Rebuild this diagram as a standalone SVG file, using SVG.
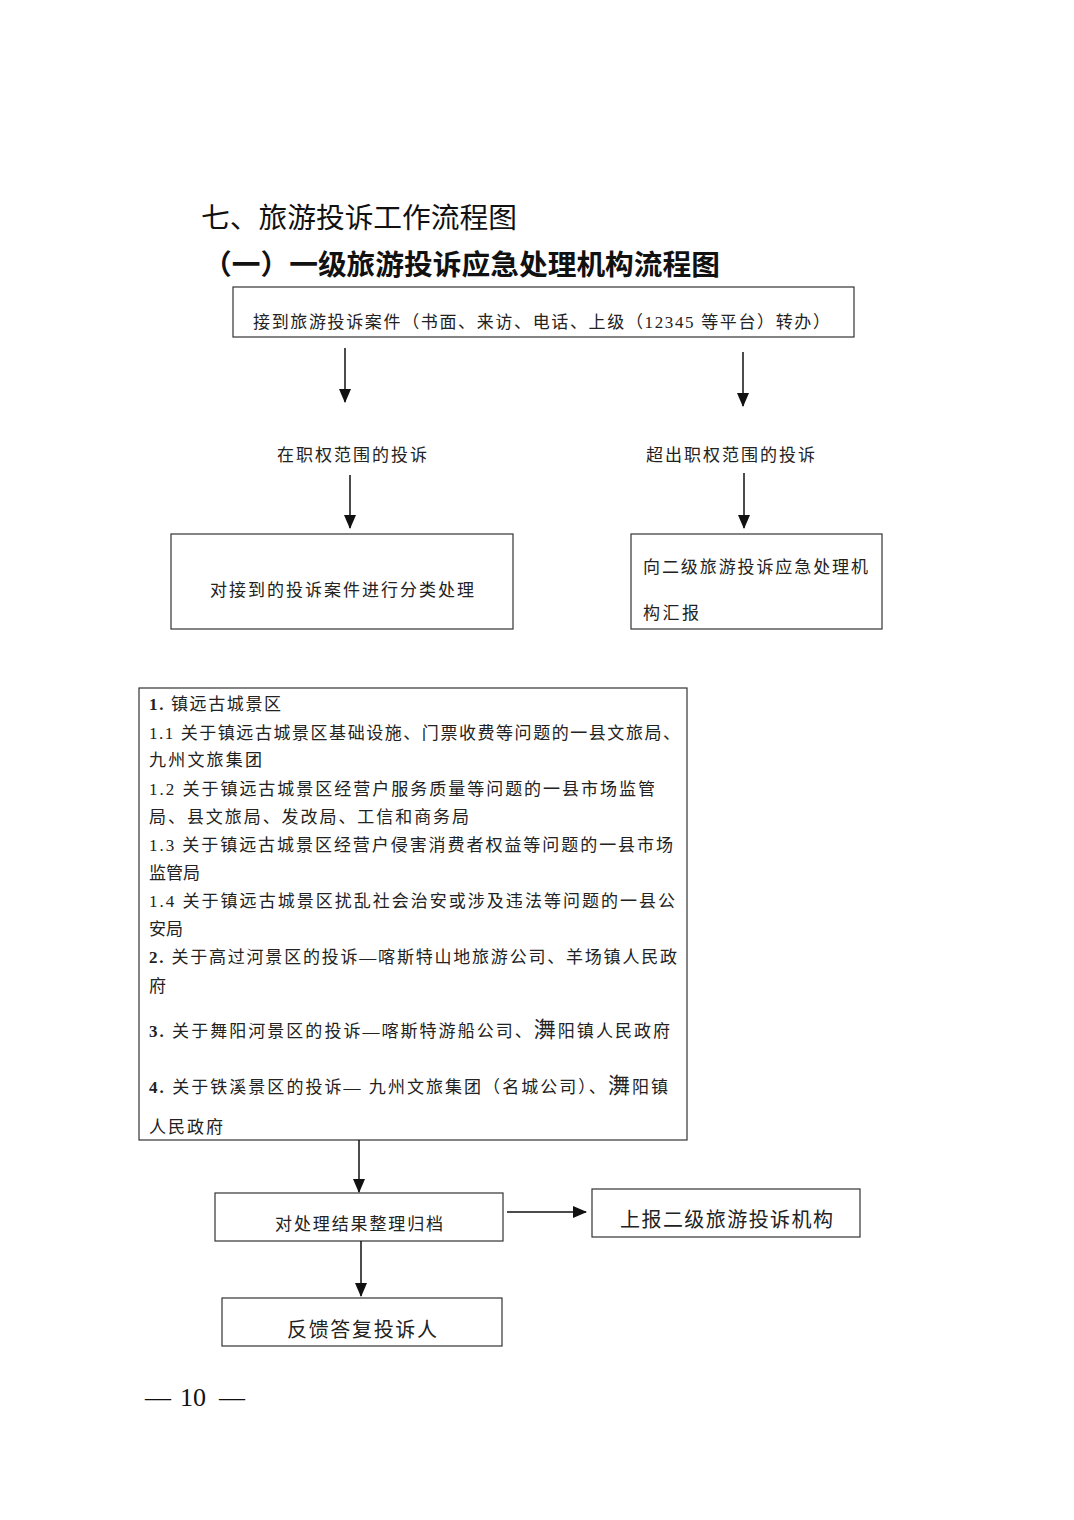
<svg xmlns="http://www.w3.org/2000/svg" width="1074" height="1520" viewBox="0 0 1074 1520">
<style>
.bx{fill:#fff;stroke:#333;stroke-width:1.2}
.t{font-family:"Liberation Serif","Noto Sans CJK SC",serif;font-size:17px;fill:#222}
.t20{font-family:"Liberation Serif","Noto Sans CJK SC",serif;font-size:20px;fill:#222}
.h1{font-family:"Liberation Sans","Noto Sans CJK SC",sans-serif;font-size:28px;fill:#111}
.h2{font-family:"Liberation Sans","Noto Sans CJK SC",sans-serif;font-size:28px;font-weight:bold;fill:#111}
.pg{font-family:"Liberation Serif",serif;font-size:26px;fill:#111}
.b{font-weight:bold}
.big{font-size:22px}
.ln{stroke:#111;stroke-width:1.5;fill:none}
</style>
<defs>
<marker id="ah" viewBox="0 0 14 12" refX="13" refY="6" markerWidth="14" markerHeight="12" markerUnits="userSpaceOnUse" orient="auto"><path d="M0,0L14,6L0,12Z" fill="#111"/></marker>
</defs>
<rect width="1074" height="1520" fill="#fff"/>
<text class="h1" x="201" y="228" textLength="316" lengthAdjust="spacingAndGlyphs">七、旅游投诉工作流程图</text>
<text class="h2" x="203" y="275" textLength="517" lengthAdjust="spacingAndGlyphs">（一）一级旅游投诉应急处理机构流程图</text>

<g id="n-receive">
<rect class="bx" x="233" y="287" width="621" height="50"/>
<text class="t" x="253" y="328" textLength="577" lengthAdjust="spacing">接到旅游投诉案件（书面、来访、电话、上级（12345 等平台）转办）</text>
</g>
<g id="n-inscope"><text class="t" x="277" y="461" textLength="150" lengthAdjust="spacing">在职权范围的投诉</text></g>
<g id="n-outscope"><text class="t" x="646" y="461" textLength="169" lengthAdjust="spacing">超出职权范围的投诉</text></g>
<g id="n-classify">
<rect class="bx" x="171" y="534" width="342" height="95"/>
<text class="t" x="210" y="596" textLength="264" lengthAdjust="spacing">对接到的投诉案件进行分类处理</text>
</g>
<g id="n-report2">
<rect class="bx" x="631" y="534" width="251" height="95"/>
<text class="t" x="643" y="573" textLength="225" lengthAdjust="spacing">向二级旅游投诉应急处理机</text>
<text class="t" x="643" y="619" textLength="56" lengthAdjust="spacing">构汇报</text>
</g>
<g id="n-list">
<rect class="bx" x="139" y="688" width="548" height="452"/>
<text class="t" x="149" y="710" textLength="132" lengthAdjust="spacing"><tspan class="b">1.</tspan> 镇远古城景区</text>
<text class="t" x="149" y="739" textLength="531" lengthAdjust="spacing">1.1 关于镇远古城景区基础设施、门票收费等问题的一县文旅局、</text>
<text class="t" x="149" y="766" textLength="113" lengthAdjust="spacing">九州文旅集团</text>
<text class="t" x="149" y="795" textLength="506" lengthAdjust="spacing">1.2 关于镇远古城景区经营户服务质量等问题的一县市场监管</text>
<text class="t" x="149" y="823" textLength="320" lengthAdjust="spacing">局、县文旅局、发改局、工信和商务局</text>
<text class="t" x="149" y="851" textLength="524" lengthAdjust="spacing">1.3 关于镇远古城景区经营户侵害消费者权益等问题的一县市场</text>
<text class="t" x="149" y="879" textLength="51" lengthAdjust="spacing">监管局</text>
<text class="t" x="149" y="907" textLength="526" lengthAdjust="spacing">1.4 关于镇远古城景区扰乱社会治安或涉及违法等问题的一县公</text>
<text class="t" x="149" y="935" textLength="34" lengthAdjust="spacing">安局</text>
<text class="t" x="149" y="963" textLength="528" lengthAdjust="spacing"><tspan class="b">2.</tspan> 关于高过河景区的投诉—喀斯特山地旅游公司、羊场镇人民政</text>
<text class="t" x="149" y="992" textLength="18" lengthAdjust="spacing">府</text>
<text class="t" x="149" y="1037" textLength="521" lengthAdjust="spacing"><tspan class="b">3.</tspan> 关于舞阳河景区的投诉—喀斯特游船公司、<tspan class="big">㵲</tspan>阳镇人民政府</text>
<text class="t" x="149" y="1093" textLength="519" lengthAdjust="spacing"><tspan class="b">4.</tspan> 关于铁溪景区的投诉— 九州文旅集团（名城公司）、<tspan class="big">㵲</tspan>阳镇</text>
<text class="t" x="149" y="1133" textLength="74" lengthAdjust="spacing">人民政府</text>
</g>
<g id="n-archive">
<rect class="bx" x="215" y="1193" width="288" height="48"/>
<text class="t" x="275" y="1230" textLength="168" lengthAdjust="spacing">对处理结果整理归档</text>
</g>
<g id="n-report-up">
<rect class="bx" x="592" y="1189" width="268" height="48"/>
<text class="t20" x="620" y="1227" textLength="213" lengthAdjust="spacing">上报二级旅游投诉机构</text>
</g>
<g id="n-feedback">
<rect class="bx" x="222" y="1298" width="280" height="48"/>
<text class="t20" x="287" y="1337" textLength="150" lengthAdjust="spacing">反馈答复投诉人</text>
</g>
<g id="connectors">
<line class="ln" x1="345" y1="348" x2="345" y2="402" marker-end="url(#ah)"/>
<line class="ln" x1="743" y1="352" x2="743" y2="406" marker-end="url(#ah)"/>
<line class="ln" x1="350" y1="475" x2="350" y2="528" marker-end="url(#ah)"/>
<line class="ln" x1="744" y1="473" x2="744" y2="528" marker-end="url(#ah)"/>
<line class="ln" x1="359" y1="1140" x2="359" y2="1192" marker-end="url(#ah)"/>
<line class="ln" x1="507" y1="1212" x2="586" y2="1212" marker-end="url(#ah)"/>
<line class="ln" x1="361" y1="1241" x2="361" y2="1296" marker-end="url(#ah)"/>
</g>
<text class="pg" x="145" y="1406">—</text>
<text class="pg" x="180" y="1406">10</text>
<text class="pg" x="219" y="1406">—</text>
</svg>
